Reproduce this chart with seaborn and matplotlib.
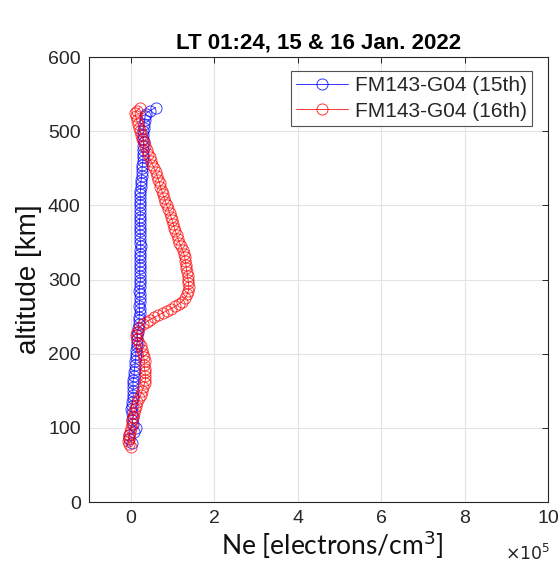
import matplotlib
matplotlib.use("Agg")
import matplotlib.pyplot as plt
import seaborn as sns
import pandas as pd

# ---- data (Ne in units of 1e5 electrons/cm^3, altitude in km) ----
alt_15 = [80, 85, 90, 95, 100, 105, 110, 115, 120, 125, 130, 135, 140, 145, 150,
          155, 160, 165, 170, 175, 180, 185, 190, 195, 200, 205, 210, 215, 220, 225,
          230, 235, 240, 245, 250, 255, 260, 265, 270, 275, 280, 285, 290, 295, 300,
          305, 310, 315, 320, 325, 330, 335, 340, 345, 350, 355, 360, 365, 370, 375,
          380, 385, 390, 395, 400, 405, 410, 415, 420, 425, 430, 435, 440, 445, 450,
          455, 460, 465, 470, 475, 480, 485, 490, 495, 500, 505, 510, 515, 520, 524,
          528, 532]
ne_15 = [0.02, -0.04, -0.05, 0.08, 0.12, 0.05, 0.04, 0.06, 0.03, 0.00, 0.02, 0.04, 0.05, 0.06, 0.05,
         0.06, 0.05, 0.06, 0.08, 0.08, 0.09, 0.10, 0.11, 0.12, 0.12, 0.13, 0.14, 0.15, 0.16, 0.16,
         0.17, 0.18, 0.19, 0.20, 0.20, 0.21, 0.21, 0.20, 0.21, 0.22, 0.21, 0.20, 0.21, 0.22, 0.23,
         0.22, 0.21, 0.22, 0.22, 0.21, 0.22, 0.22, 0.23, 0.24, 0.23, 0.22, 0.23, 0.22, 0.22, 0.21,
         0.21, 0.22, 0.23, 0.22, 0.22, 0.23, 0.23, 0.22, 0.23, 0.24, 0.24, 0.25, 0.26, 0.27, 0.27,
         0.28, 0.29, 0.29, 0.30, 0.30, 0.30, 0.31, 0.30, 0.29, 0.30, 0.31, 0.32, 0.33, 0.34, 0.36,
         0.46, 0.60]

alt_16 = [74, 78, 82, 86, 90, 95, 100, 105, 110, 115, 120, 125, 130, 135, 140,
          145, 150, 155, 160, 165, 170, 175, 180, 185, 190, 195, 200, 205, 210, 215,
          220, 225, 230, 235, 240, 243, 246, 249, 252, 255, 258, 261, 264, 267, 270,
          275, 280, 285, 290, 295, 300, 305, 310, 315, 320, 325, 330, 335, 340, 345,
          350, 355, 360, 365, 370, 375, 380, 385, 390, 395, 400, 405, 410, 415, 420,
          425, 430, 435, 440, 445, 450, 455, 460, 465, 470, 475, 480, 485, 490, 495,
          500, 505, 510, 515, 520, 525, 528, 532]
ne_16 = [0.00, -0.04, -0.06, -0.05, -0.04, -0.02, 0.00, 0.02, 0.03, 0.05, 0.08, 0.10, 0.13, 0.15, 0.20,
         0.24, 0.27, 0.30, 0.33, 0.35, 0.35, 0.34, 0.33, 0.32, 0.33, 0.31, 0.30, 0.27, 0.24, 0.20,
         0.16, 0.13, 0.14, 0.20, 0.30, 0.38, 0.46, 0.56, 0.66, 0.76, 0.86, 0.97, 1.07, 1.15, 1.22,
         1.30, 1.35, 1.38, 1.39, 1.38, 1.37, 1.36, 1.35, 1.33, 1.32, 1.31, 1.29, 1.27, 1.24, 1.20,
         1.16, 1.13, 1.10, 1.07, 1.04, 1.02, 0.99, 0.96, 0.93, 0.90, 0.86, 0.83, 0.80, 0.77, 0.74,
         0.71, 0.69, 0.66, 0.63, 0.60, 0.56, 0.52, 0.48, 0.45, 0.42, 0.38, 0.34, 0.31, 0.28, 0.25,
         0.22, 0.20, 0.17, 0.14, 0.12, 0.10, 0.15, 0.22]

labels = ["FM143-G04 (15th)", "FM143-G04 (16th)"]
colors = ["#0000ff", "#ff0000"]
x_ticks = [0, 2, 4, 6, 8, 10]
y_ticks = [0, 100, 200, 300, 400, 500, 600]
title = "LT 01:24, 15 & 16 Jan. 2022"

# ---- figure ----
sns.set_style("white")
plt.rcParams["font.family"] = ["Liberation Sans", "DejaVu Sans"]

fig = plt.figure(figsize=(5.6, 5.66), dpi=100)
ax = fig.add_axes([0.159, 0.113, 0.820, 0.786])

for alts, vals, lab, col in [(alt_15, ne_15, labels[0], colors[0]),
                             (alt_16, ne_16, labels[1], colors[1])]:
    df = pd.DataFrame({"ne": vals, "alt": alts})
    sns.lineplot(data=df, x="ne", y="alt", sort=False, estimator=None, orient="y",
                 ax=ax, color=col, linewidth=0.7, marker="o", markersize=8,
                 markerfacecolor="none", markeredgecolor=col, markeredgewidth=0.7,
                 alpha=0.75, label=lab)

ax.set_xlim(-1, 10)
ax.set_ylim(0, 600)
ax.set_xticks(x_ticks)
ax.set_yticks(y_ticks)
ax.set_xticklabels([str(t) for t in x_ticks])
ax.set_yticklabels([str(t) for t in y_ticks])
ax.grid(True, color="#e3e3e3", linewidth=0.8)
ax.set_axisbelow(True)
for s in ax.spines.values():
    s.set_color("#262626")
    s.set_linewidth(0.8)
ax.tick_params(direction="in", length=4, width=0.7, colors="#262626",
               labelsize=14, top=True, right=True, pad=6)
ax.tick_params(axis="x", pad=6)

ax.set_xlabel("")
ax.set_ylabel("altitude [km]", fontsize=20, color="#111111", labelpad=4)
ax.set_title(title, fontsize=16, fontweight="bold", color="black", pad=6)

fig.text(0.594, 0.020, "Ne [electrons/cm$^3$]", fontsize=19, ha="center", va="baseline",
         family=["Lato", "DejaVu Sans"], color="#111111")
fig.text(0.982, 0.006, r"$\times10^5$", fontsize=12.5, ha="right", va="bottom", color="#262626")

leg = ax.legend(loc="upper right", bbox_to_anchor=(0.965, 0.9685), fontsize=15,
                frameon=True, fancybox=False, edgecolor="#262626", handlelength=2.5,
                handletextpad=0.33, borderpad=0.25, labelspacing=0.3, borderaxespad=0)
leg.get_frame().set_linewidth(0.8)
for h in leg.legend_handles:
    h.set_alpha(0.8)

fig.savefig("out.png", dpi=100)
